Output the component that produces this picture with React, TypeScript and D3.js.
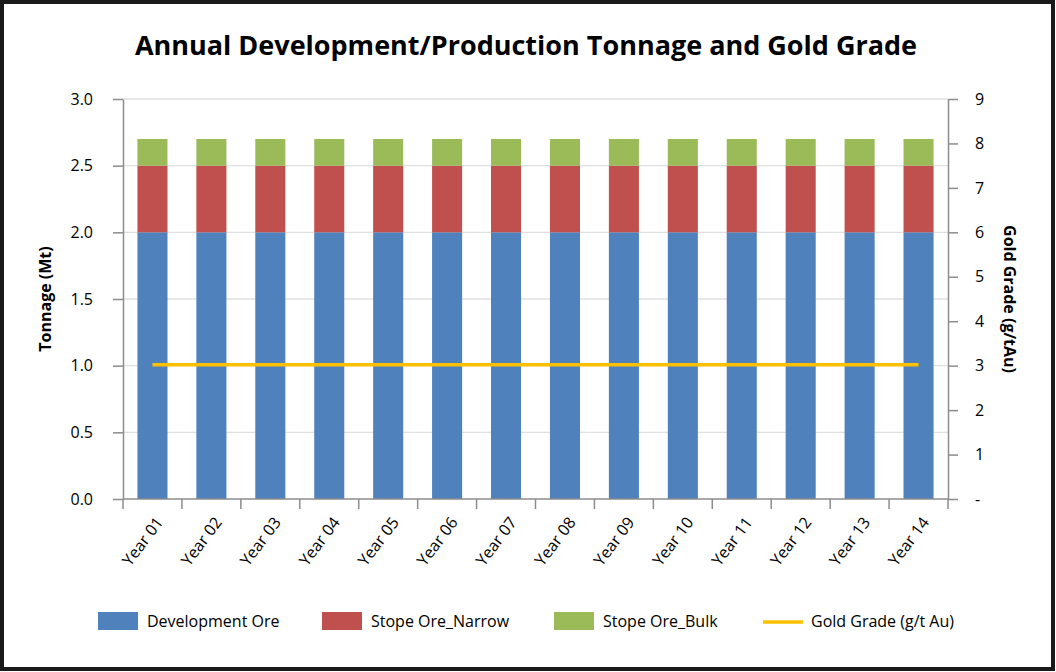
import { useEffect, useRef } from 'react';
import * as d3 from 'd3';

const years = ['Year 01', 'Year 02', 'Year 03', 'Year 04', 'Year 05', 'Year 06', 'Year 07',
  'Year 08', 'Year 09', 'Year 10', 'Year 11', 'Year 12', 'Year 13', 'Year 14'];
const developmentOre = [2.0, 2.0, 2.0, 2.0, 2.0, 2.0, 2.0, 2.0, 2.0, 2.0, 2.0, 2.0, 2.0, 2.0];
const stopeNarrow = [0.5, 0.5, 0.5, 0.5, 0.5, 0.5, 0.5, 0.5, 0.5, 0.5, 0.5, 0.5, 0.5, 0.5];
const stopeBulk = [0.2, 0.2, 0.2, 0.2, 0.2, 0.2, 0.2, 0.2, 0.2, 0.2, 0.2, 0.2, 0.2, 0.2];
const goldGrade = [3.02, 3.02, 3.02, 3.02, 3.02, 3.02, 3.02, 3.02, 3.02, 3.02, 3.02, 3.02, 3.02, 3.02];
const leftTicks = [0, 0.5, 1.0, 1.5, 2.0, 2.5, 3.0];
const rightTicks = [0, 1, 2, 3, 4, 5, 6, 7, 8, 9];

const seriesNames = ['Development Ore', 'Stope Ore_Narrow', 'Stope Ore_Bulk'];
const seriesColors = ['#4F81BD', '#C0504D', '#9BBB59'];
const goldColor = '#FFC000';
const font = "'Open Sans', 'Liberation Sans', sans-serif";

const W = 1056;
const H = 672;

export default function App() {
  const svgRef = useRef<SVGSVGElement>(null);

  useEffect(() => {
    if (!svgRef.current) return;
    const svg = d3.select(svgRef.current);
    svg.selectAll('*').remove();

    const left = 123, right = 948, top = 99, bottom = 499;

    const x = d3.scaleBand().domain(years).range([left, right]).paddingInner(0.49).paddingOuter(0.245);
    const y = d3.scaleLinear().domain([0, 3]).range([bottom, top]);
    const y2 = d3.scaleLinear().domain([0, 9]).range([bottom, top]);

    // frame
    svg.append('rect')
      .attr('x', 2).attr('y', 2).attr('width', W - 5).attr('height', H - 5)
      .attr('fill', '#fff').attr('stroke', '#1a1a1a').attr('stroke-width', 4);

    // title
    svg.append('text')
      .attr('x', 526).attr('y', 55)
      .attr('text-anchor', 'middle')
      .attr('font-family', font).attr('font-weight', 700).attr('font-size', 27)
      .attr('fill', '#000')
      .text('Annual Development/Production Tonnage and Gold Grade');

    // gridlines
    svg.append('g').selectAll('line')
      .data(leftTicks.filter(t => t > 0))
      .join('line')
      .attr('x1', left).attr('x2', right)
      .attr('y1', d => y(d)).attr('y2', d => y(d))
      .attr('stroke', '#e0e0e0').attr('stroke-width', 1.3);

    // stacked bars
    const rows = years.map((yr, i) => ({ year: yr, a: developmentOre[i], b: stopeNarrow[i], c: stopeBulk[i] }));
    const stack = d3.stack<any>().keys(['a', 'b', 'c'])(rows);
    stack.forEach((layer, li) => {
      svg.append('g').selectAll('rect')
        .data(layer)
        .join('rect')
        .attr('x', d => x(d.data.year)!)
        .attr('width', x.bandwidth())
        .attr('y', d => y(d[1]))
        .attr('height', d => y(d[0]) - y(d[1]))
        .attr('fill', seriesColors[li]);
    });

    // gold grade line
    const line = d3.line<number>()
      .x((_, i) => x(years[i])! + x.bandwidth() / 2)
      .y(d => y2(d));
    svg.append('path')
      .datum(goldGrade)
      .attr('d', line)
      .attr('fill', 'none')
      .attr('stroke', goldColor)
      .attr('stroke-width', 3.5);

    const axisColor = '#8c8c8c';
    const tickFont = (g: d3.Selection<SVGGElement, unknown, null, undefined>) => {
      g.select('.domain').attr('stroke', axisColor).attr('stroke-width', 1.5);
      g.selectAll('.tick line').attr('stroke', axisColor).attr('stroke-width', 1.5);
      g.selectAll('.tick text').attr('font-family', font).attr('font-size', 16).attr('fill', '#000');
    };

    // left axis
    svg.append('g')
      .attr('transform', `translate(${left},0)`)
      .call(d3.axisLeft(y).tickValues(leftTicks).tickFormat(d3.format('.1f')).tickSize(10).tickSizeOuter(0).tickPadding(20))
      .call(tickFont);

    // right axis
    svg.append('g')
      .attr('transform', `translate(${right},0)`)
      .call(d3.axisRight(y2).tickValues(rightTicks).tickFormat(d => (+d === 0 ? '-' : String(d))).tickSize(10).tickSizeOuter(0).tickPadding(17))
      .call(tickFont);

    // bottom axis with boundary ticks
    const bottomG = svg.append('g');
    bottomG.append('line')
      .attr('x1', left).attr('x2', right).attr('y1', bottom).attr('y2', bottom)
      .attr('stroke', axisColor).attr('stroke-width', 1.5);
    const boundaries = d3.range(years.length + 1).map(i => left + (i * (right - left)) / years.length);
    bottomG.selectAll('line.b')
      .data(boundaries)
      .join('line')
      .attr('class', 'b')
      .attr('x1', d => d).attr('x2', d => d)
      .attr('y1', bottom).attr('y2', bottom + 10)
      .attr('stroke', axisColor).attr('stroke-width', 1.5);
    bottomG.selectAll('text')
      .data(years)
      .join('text')
      .attr('transform', d => `translate(${x(d)! + x.bandwidth() / 2 + 7},${bottom + 20}) rotate(-53)`)
      .attr('text-anchor', 'end')
      .attr('dy', '0.35em')
      .attr('font-family', font).attr('font-size', 16).attr('fill', '#000')
      .text(d => d);

    // axis titles
    svg.append('text')
      .attr('transform', `translate(51,${(top + bottom) / 2}) rotate(-90)`)
      .attr('text-anchor', 'middle')
      .attr('font-family', font).attr('font-weight', 700).attr('font-size', 16)
      .text('Tonnage (Mt)');
    svg.append('text')
      .attr('transform', `translate(1004,${(top + bottom) / 2}) rotate(90)`)
      .attr('text-anchor', 'middle')
      .attr('font-family', font).attr('font-weight', 700).attr('font-size', 16)
      .text('Gold Grade (g/tAu)');

    // legend
    const legendX = [98, 322, 554];
    const legendY = 621;
    seriesNames.forEach((name, i) => {
      svg.append('rect')
        .attr('x', legendX[i]).attr('y', legendY - 9).attr('width', 40).attr('height', 18)
        .attr('fill', seriesColors[i]);
      svg.append('text')
        .attr('x', legendX[i] + 49).attr('y', legendY).attr('dy', '0.35em')
        .attr('font-family', font).attr('font-size', 16).attr('fill', '#000')
        .text(name);
    });
    svg.append('line')
      .attr('x1', 763).attr('x2', 803).attr('y1', legendY + 1).attr('y2', legendY + 1)
      .attr('stroke', goldColor).attr('stroke-width', 3.5);
    svg.append('text')
      .attr('x', 811).attr('y', legendY).attr('dy', '0.35em')
      .attr('font-family', font).attr('font-size', 16).attr('fill', '#000')
      .text('Gold Grade (g/t Au)');
  }, []);

  return (
    <div style={{ position: 'fixed', left: 0, top: 0 }}>
      <svg ref={svgRef} width={W} height={H} style={{ display: 'block' }} />
    </div>
  );
}
